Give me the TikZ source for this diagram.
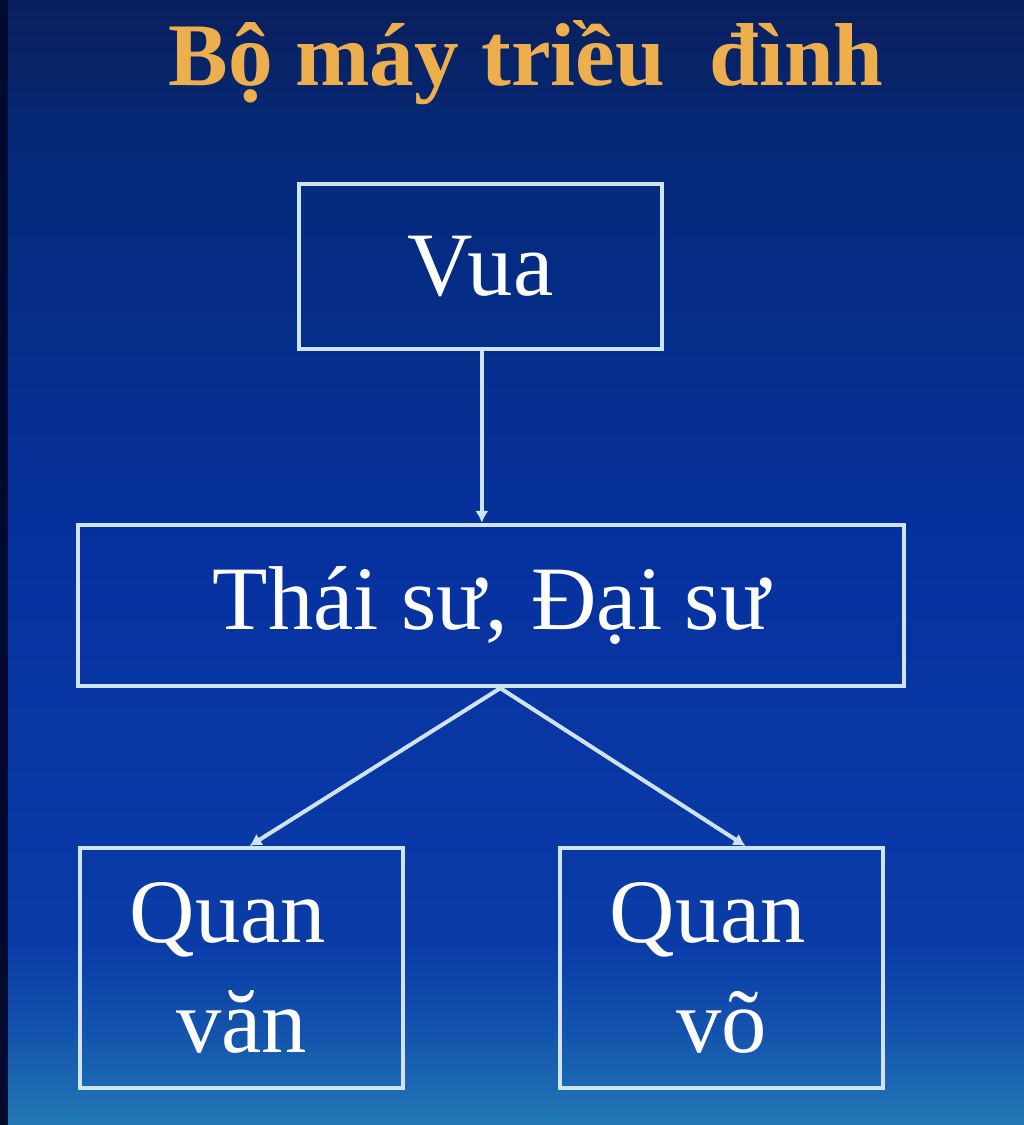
\documentclass[tikz,border=0pt]{standalone}
\usepackage{fontspec}
\setmainfont{Liberation Serif}
\usetikzlibrary{arrows.meta}

\definecolor{bgtop}{HTML}{0A1F5C}
\definecolor{bghigh}{HTML}{052A7A}
\definecolor{bgmid}{HTML}{0632A0}
\definecolor{bglow}{HTML}{0A3CA8}
\definecolor{bgbot}{HTML}{2378B4}
\definecolor{bgedge}{HTML}{020A30}
\definecolor{linecol}{HTML}{CFE3F5}
\definecolor{titlecol}{HTML}{EDAE4E}

% stops live between 25bp and 75bp (the part that fills the path)
\pgfdeclareverticalshading{courtbg}{100bp}{color(0bp)=(bgbot); color(25bp)=(bgbot); color(29bp)=(bglow!60!bgbot); color(33bp)=(bglow); color(50bp)=(bgmid); color(68bp)=(bghigh); color(75bp)=(bgtop); color(100bp)=(bgtop)}

\tikzset{
  ofbox/.style={draw=linecol, line width=3pt, text=white, inner sep=0pt, align=center, font=\fontsize{68}{82}\selectfont},
  link/.style={draw=linecol, line width=3pt, -{Latex[length=9pt,width=10pt]}}
}

\begin{document}
\begin{tikzpicture}[x=0.75pt,y=0.75pt,yscale=-1,xscale=1]
		% background
		\useasboundingbox[shading=courtbg] (0,0) rectangle (1024,1125);
		\fill[bgedge] (0,0) rectangle (8,1125);
		
		% Title
		\node (title) [anchor=base, text=titlecol, font=\fontsize{67}{70}\selectfont\bfseries] at (526,85) {Bộ máy triều\ \ đình};
		
		% Boxes
		\node (vua) [ofbox, minimum width=272pt, minimum height=124pt] at (480.5,266.5) {Vua};
		\node (thai) [ofbox, minimum width=620pt, minimum height=121pt] at (491,605.5) {Thái sư, Đại sư};
		\node (qvan) [ofbox, minimum width=242pt, minimum height=180pt] at (241.5,968) {Quan\hspace*{0.3em}\\văn};
		\node (qvo) [ofbox, minimum width=242pt, minimum height=180pt] at (721.5,968) {Quan\hspace*{0.3em}\\võ};
		
		% Connectors
		\draw[link] ([xshift=1pt]vua.south) -- ([xshift=1pt]vua.south |- thai.north);
		\draw[link] ([xshift=7pt]thai.south) -- ([xshift=6pt]qvan.north);
		\draw[link] ([xshift=7pt]thai.south) -- ([xshift=18pt]qvo.north);
		
\end{tikzpicture}
\end{document}
